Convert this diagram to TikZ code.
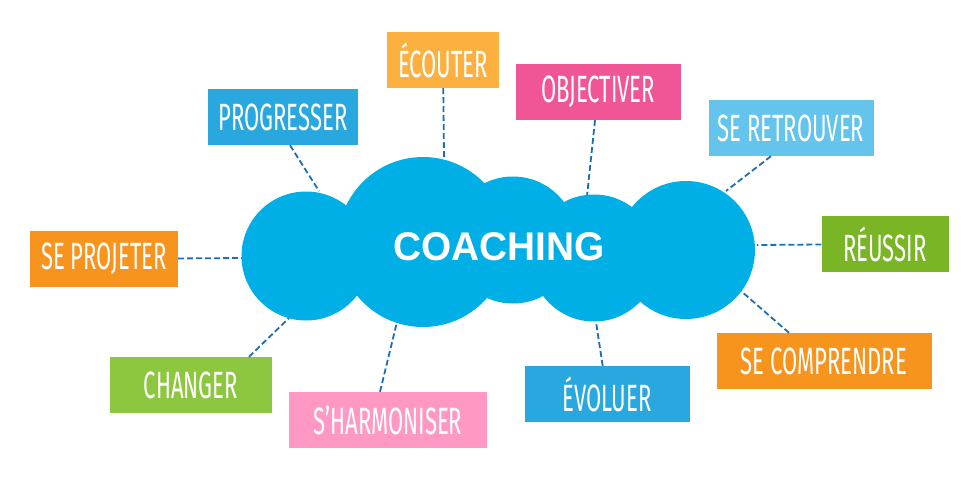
\documentclass[tikz,border=0pt]{standalone}
\usepackage{fontspec}
\usepackage{tikz}
\newfontfamily\boxfont[FakeStretch=0.58]{Fira Sans}
\newfontfamily\cloudfont[FakeStretch=0.97]{Liberation Sans}
\definecolor{cloudcol}{RGB}{0,175,230}
\definecolor{linkcol}{RGB}{30,110,180}
\definecolor{bluecol}{RGB}{41,168,224}
\definecolor{skycol}{RGB}{100,196,235}
\definecolor{orangecol}{RGB}{247,148,30}
\definecolor{peachcol}{RGB}{251,176,64}
\definecolor{pinkcol}{RGB}{240,85,150}
\definecolor{rosecol}{RGB}{255,153,196}
\definecolor{greencol}{RGB}{122,181,38}
\definecolor{limecol}{RGB}{141,198,63}
\tikzset{
  tag/.style  ={rectangle, text=white, minimum height=56pt, inner sep=0pt,
                font=\boxfont\fontsize{38}{38}\selectfont},
  blob/.style ={circle, fill=cloudcol, inner sep=0pt},
  link/.style ={draw=linkcol, line width=1.8pt, dash pattern=on 6pt off 3pt},
}
\begin{document}
\begin{tikzpicture}[x=1pt, y=-1pt]
    \useasboundingbox (0,0) rectangle (980,490);

    % labels round the cloud
    \node[tag, fill=bluecol,   minimum width=150pt] (prog) at (283,117) {PROGRESSER};
    \node[tag, fill=peachcol,  minimum width=112pt] (ecou) at (443,60)  {ÉCOUTER};
    \node[tag, fill=pinkcol,   minimum width=165pt] (obj)  at (598,92)  {OBJECTIVER};
    \node[tag, fill=skycol,    minimum width=165pt] (ret)  at (791,128) {SE RETROUVER};
    \node[tag, fill=greencol,  minimum width=127pt] (reu)  at (885,244) {RÉUSSIR};
    \node[tag, fill=orangecol, minimum width=148pt] (proj) at (104,259) {SE PROJETER};
    \node[tag, fill=limecol,   minimum width=162pt] (chg)  at (191,385) {CHANGER};
    \node[tag, fill=rosecol,   minimum width=198pt] (harm) at (388,420) {S’HARMONISER};
    \node[tag, fill=bluecol,   minimum width=165pt] (evo)  at (607,394) {ÉVOLUER};
    \node[tag, fill=orangecol, minimum width=215pt] (comp) at (824,361) {SE COMPRENDRE};

    % where the dashed lines meet the cloud
    \coordinate (kprog) at (319,191);
    \coordinate (kecou) at (444,158);
    \coordinate (kobj)  at (587,196);
    \coordinate (kret)  at (726,191);
    \coordinate (kreu)  at (757,245);
    \coordinate (kproj) at (242,258);
    \coordinate (kchg)  at (289,318);
    \coordinate (kharm) at (397,322);
    \coordinate (kevo)  at (596,322);
    \coordinate (kcomp) at (741,291);

    % dashed links (under the cloud)
    \draw[link] ([xshift=7pt]prog.south) -- (kprog);
    \draw[link] (ecou) -- (kecou);
    \draw[link] (obj) -- (kobj);
    \draw[link] ([xshift=-20pt]ret.south) -- (kret);
    \draw[link] (reu) -- (kreu);
    \draw[link] (proj) -- (kproj);
    \draw[link] ([xshift=58pt]chg.north) -- (kchg);
    \draw[link] ([xshift=-8pt]harm.north) -- (kharm);
    \draw[link] (evo) -- (kevo);
    \draw[link] ([xshift=-35pt]comp.north) -- (kcomp);

    % cloud
    \node[blob, minimum size=129pt] (c1) at (306,256) {};
    \node[blob, minimum size=170pt] (c2) at (423,242) {};
    \node[blob, minimum size=127pt] (c3) at (513,240) {};
    \node[blob, minimum size=127pt] (c4) at (594,258) {};
    \node[blob, minimum size=138pt] (c5) at (686,250) {};
    \node[text=white, font=\cloudfont\bfseries\fontsize{40}{40}\selectfont]
        (coach) at (499,247) {COACHING};
\end{tikzpicture}
\end{document}
